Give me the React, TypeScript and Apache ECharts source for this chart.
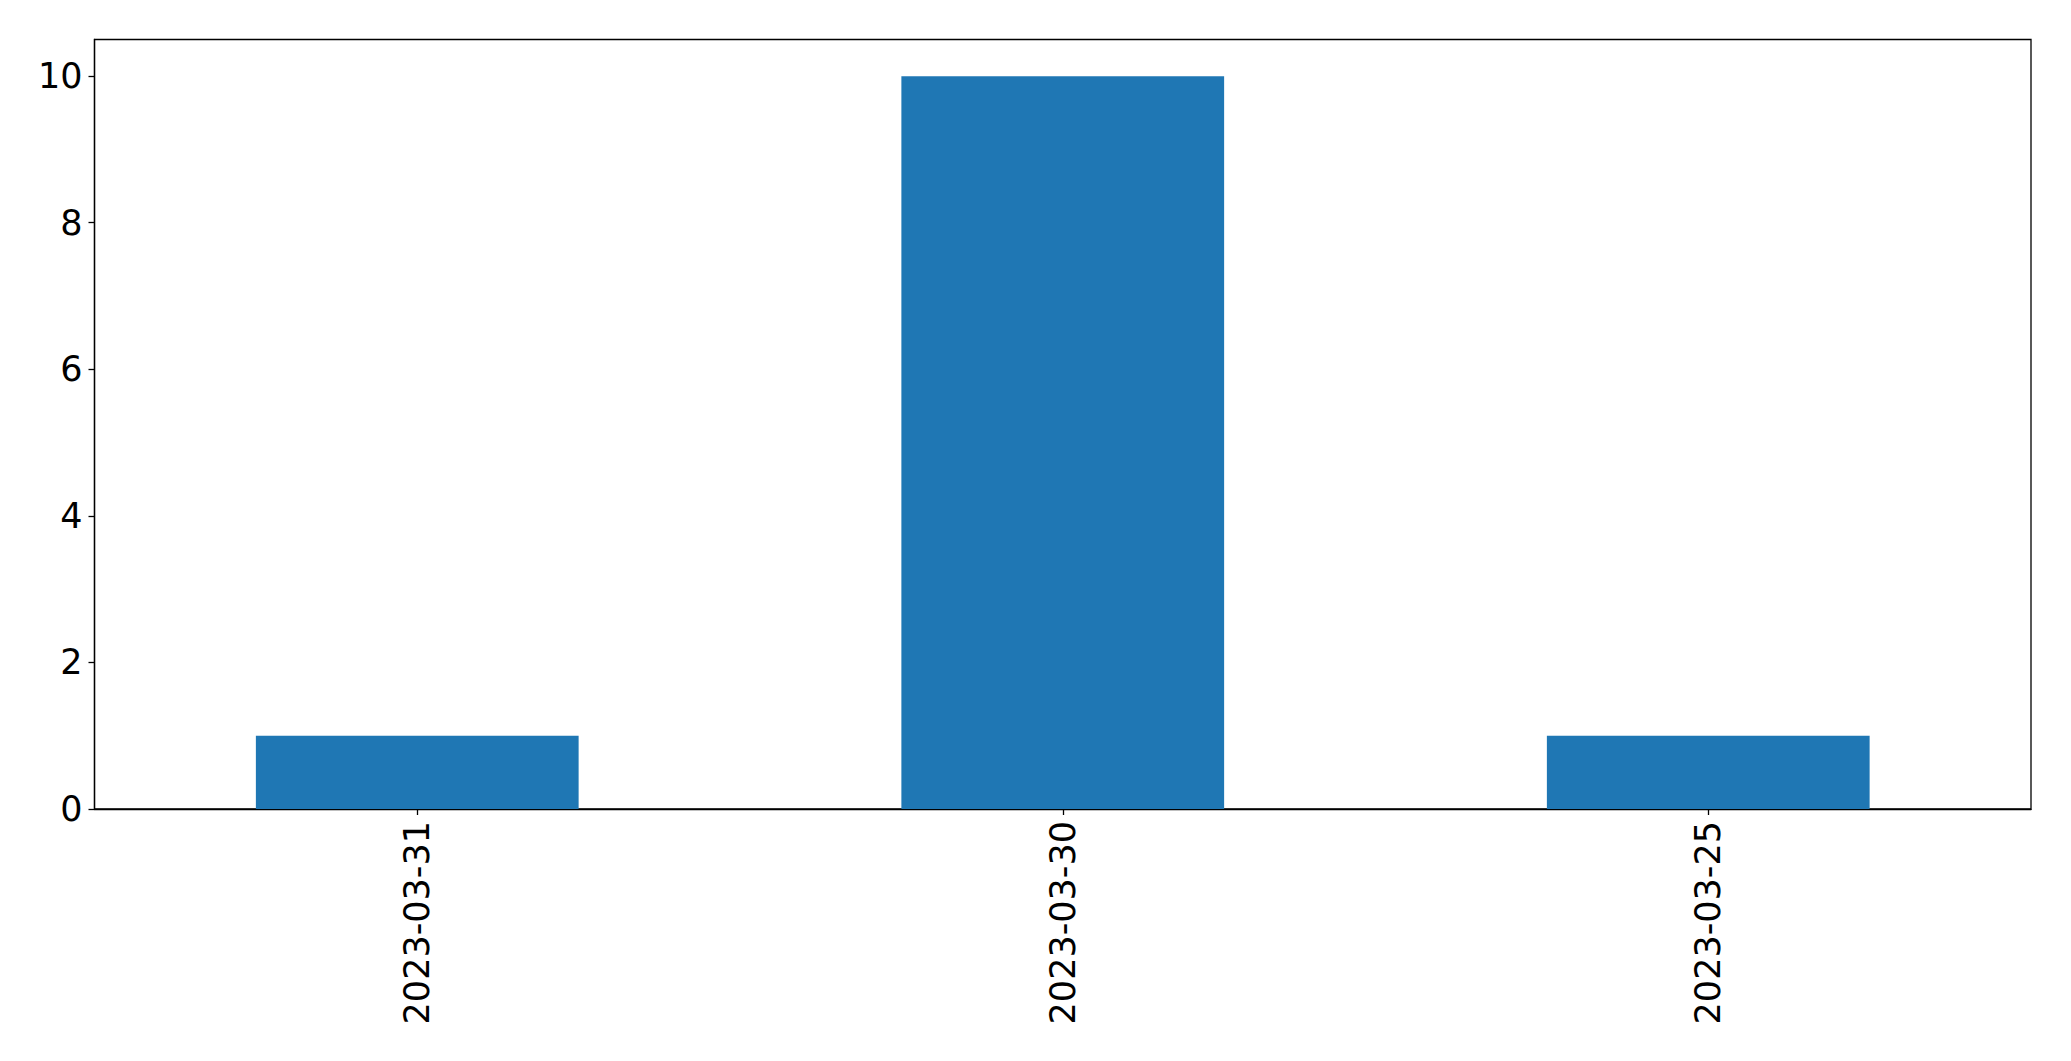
import { useEffect, useRef } from 'react';
import * as echarts from 'echarts';

const categories = ['2023-03-31', '2023-03-30', '2023-03-25'];
const values = [1, 10, 1];
const yTicks = [0, 2, 4, 6, 8, 10];

const font = 'DejaVu Sans';

export default function App() {
  const chartRef = useRef<HTMLDivElement>(null);

  useEffect(() => {
    document.body.style.margin = '0';
    if (!chartRef.current) return;
    const chart = echarts.init(chartRef.current, undefined, { renderer: 'svg' });

    chart.setOption({
      animation: false,
      backgroundColor: '#ffffff',
      grid: {
        left: 94.5,
        right: 40,
        top: 39.5,
        bottom: 252,
        show: true,
        borderColor: '#000000',
        borderWidth: 1.3,
      },
      xAxis: {
        type: 'category',
        data: categories,
        axisLine: { show: true, lineStyle: { color: '#000000', width: 1.3 } },
        axisTick: { show: true, alignWithLabel: true, length: 6, lineStyle: { color: '#000000', width: 1.3 } },
        axisLabel: {
          rotate: 90,
          color: '#000000',
          fontSize: 35,
          fontFamily: font,
          margin: 12,
        },
        splitLine: { show: false },
      },
      yAxis: {
        type: 'value',
        min: 0,
        max: 10.5,
        interval: 2,
        axisLine: { show: true, lineStyle: { color: '#000000', width: 1.3 } },
        axisTick: {
          show: true,
          length: 6,
          customValues: yTicks,
          lineStyle: { color: '#000000', width: 1.3 },
        },
        axisLabel: {
          color: '#000000',
          fontSize: 35,
          fontFamily: font,
          margin: 12,
          customValues: yTicks,
        },
        splitLine: { show: false },
      },
      series: [
        {
          type: 'bar',
          data: values,
          barWidth: '50%',
          itemStyle: { color: '#1f77b4' },
        },
      ],
    });

    return () => {
      chart.dispose();
    };
  }, []);

  return <div ref={chartRef} style={{ width: '2071px', height: '1061px' }} />;
}
